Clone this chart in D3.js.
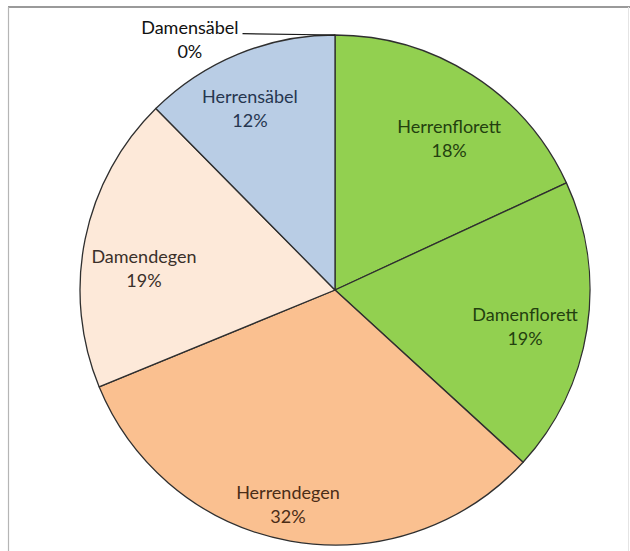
<!DOCTYPE html>
<html>
<head>
<meta charset="utf-8">
<script src="https://cdn.jsdelivr.net/npm/d3@7"></script>
<style>
  html, body { margin: 0; padding: 0; background: #fff; }
  svg { display: block; }
</style>
</head>
<body>
<svg id="chart" width="630" height="551"></svg>
<script>
// ---- data ----
const categories = ["Herrenflorett", "Damenflorett", "Herrendegen", "Damendegen", "Herrensäbel", "Damensäbel"];
const shares = [18.1, 18.7, 32.0, 18.8, 12.4, 0];
const percentLabels = ["18%", "19%", "32%", "19%", "12%", "0%"];
const sliceColors = ["#92D050", "#92D050", "#FAC090", "#FDE9D9", "#B9CDE5", "#B9CDE5"];
const textColors = ["#23400f", "#23400f", "#4a2d17", "#3a302a", "#263650", "#111111"];

// ---- layout (label placement relative to slice mid-angle) ----
const labelRadiusFactor = [0.744, 0.759, 0.861, 0.754, 0.786, 1.135];
const labelAngleShift = [4.4, 2.1, 2.3, -5.1, -2.8, -30.1];

const svg = d3.select("#chart");
const W = 630, H = 551;
const cx = 335, cy = 290, R = 255;

// frame
svg.append("line").attr("x1", 8).attr("x2", W).attr("y1", 7).attr("y2", 7)
  .attr("stroke", "#9a9a9a").attr("stroke-width", 2);
svg.append("line").attr("x1", 8.5).attr("x2", 8.5).attr("y1", 7).attr("y2", H)
  .attr("stroke", "#b5b5b5").attr("stroke-width", 1.2);
svg.append("line").attr("x1", 628.5).attr("x2", 628.5).attr("y1", 7).attr("y2", H)
  .attr("stroke", "#e4e4e4").attr("stroke-width", 1);

const g = svg.append("g").attr("transform", `translate(${cx},${cy})`);

const data = categories.map((c, i) => ({ name: c, value: shares[i], i }));
const pie = d3.pie().value(d => d.value).sort(null).startAngle(0).endAngle(2 * Math.PI);
const arcs = pie(data);
const arc = d3.arc().innerRadius(0).outerRadius(R);

g.selectAll("path.slice")
  .data(arcs.filter(a => a.data.value > 0))
  .join("path")
  .attr("class", "slice")
  .attr("d", arc)
  .attr("fill", d => sliceColors[d.data.i])
  .attr("stroke", "#2f2f2f")
  .attr("stroke-width", 1.3)
  .attr("stroke-linejoin", "round");

const font = "Lato, 'Open Sans', sans-serif";
const fs = 18, lh = 24;

arcs.forEach(a => {
  const i = a.data.i;
  const mid = (a.startAngle + a.endAngle) / 2 + labelAngleShift[i] * Math.PI / 180;
  const r = R * labelRadiusFactor[i];
  const x = Math.sin(mid) * r;
  const y = -Math.cos(mid) * r;
  const b1 = y - 5.5;
  const t = g.append("text")
    .attr("text-anchor", "middle")
    .attr("font-family", font)
    .attr("font-size", fs)
    .attr("fill", textColors[i]);
  t.append("tspan").attr("x", x).attr("y", b1).text(a.data.name);
  t.append("tspan").attr("x", x).attr("y", b1 + lh).text(percentLabels[i]);

  if (a.data.value === 0) {
    // leader line from the label to the zero-width slice at the rim
    const tx = Math.sin(a.startAngle) * R;
    const ty = -Math.cos(a.startAngle) * R;
    const w = t.node().getBBox().width;
    g.append("line")
      .attr("x1", x + w / 2 + 4).attr("y1", b1 - 0.5)
      .attr("x2", tx).attr("y2", ty)
      .attr("stroke", "#1a1a1a").attr("stroke-width", 1.2);
  }
});
</script>
</body>
</html>
